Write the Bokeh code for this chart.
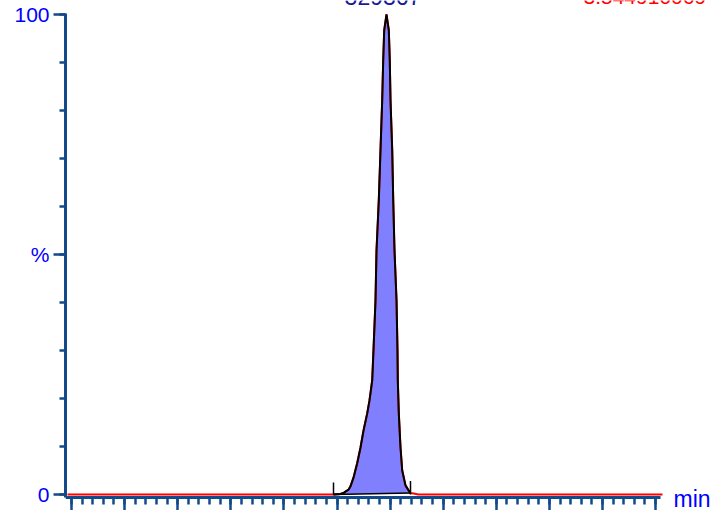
import numpy as np
from bokeh.plotting import figure
from bokeh.models import FixedTicker, Label, Range1d
from bokeh.embed import file_html
from bokeh.resources import INLINE

# ---- data (time in min, intensity in %) ----
trace_time = [0.925, 5.934, 6.066, 6.122, 6.160, 6.217, 6.254, 6.311, 6.380, 6.443,
              6.499, 6.569, 6.612, 6.663, 6.687, 6.725, 6.744, 6.787, 6.819, 6.851,
              6.870, 6.889, 6.932, 6.976, 6.994, 7.008, 7.040, 7.059, 7.083, 7.121,
              7.139, 7.145, 7.164, 7.196, 7.228, 7.290, 7.352, 7.384, 7.441, 7.535, 12.13]
trace_pct = [0.0, 0.0, 0.1, 0.3, 0.6, 1.0, 1.7, 3.5, 6.5, 9.8,
             13.3, 16.9, 19.6, 23.8, 30.0, 40.4, 50.8, 61.3, 71.7, 82.1,
             90.4, 96.7, 100.0, 96.7, 90.4, 82.1, 71.7, 61.3, 50.8, 40.4,
             30.0, 23.8, 16.9, 9.8, 5.0, 1.9, 0.8, 0.3, 0.2, 0.0, 0.0]

peak_start = 5.934
peak_end = 7.384
peak_base_end = 0.3
peak_area = "329367"
header_text = "3.544910069"
x_unit = "min"

x_major = list(range(1, 13))
x_minor = [round(1 + 0.2 * i, 1) for i in range(0, 56)]
y_major = [0, 50, 100]
y_minor = list(range(0, 101, 10))
y_labels = {0: "0", 50: "%", 100: "100"}

AXIS = "#134a8a"
FONT = "Liberation Sans"

X0, X1 = 0.887, 13.128
Y0, Y1 = -3.333, 102.917
XAX_Y = -0.625

p = figure(width=715, height=510, output_backend="svg", toolbar_location=None,
           x_range=Range1d(X0, X1), y_range=Range1d(Y0, Y1),
           x_axis_location="above",
           min_border_left=65, min_border_right=0, min_border_top=0,
           min_border_bottom=0)
p.outline_line_color = None
p.xgrid.visible = False
p.ygrid.visible = False
p.background_fill_color = "white"

t = np.array(trace_time)
v = np.array(trace_pct)
mask = (t >= peak_start) & (t <= peak_end)
pt = t[mask]
pv = v[mask]
base = np.interp(pt, [peak_start, peak_end], [0.0, peak_base_end])

p.varea(x=pt, y1=base, y2=pv, fill_color="#8080ff")
p.line(t, v, line_color="#ff0000", line_width=2)
p.line(pt, pv, line_color="black", line_width=2)
p.line([peak_start, peak_end], [0.0, peak_base_end], line_color="black", line_width=1.5)
p.segment(x0=[peak_start, peak_end], y0=[0, 0], x1=[peak_start, peak_end], y1=[2.5, 2.8],
          line_color="black", line_width=1.5)

# x axis: drawn at a fixed data location, ticks pointing down
xa = p.xaxis[0]
xa.fixed_location = XAX_Y
xa.bounds = (X0, 12.09)
xa.ticker = FixedTicker(ticks=x_major, minor_ticks=x_minor)
xa.major_label_overrides = {k: "" for k in x_major}
xa.major_label_text_font_size = "0px"
xa.major_label_standoff = 0
xa.axis_line_color = AXIS
xa.axis_line_width = 3
xa.major_tick_line_color = AXIS
xa.minor_tick_line_color = AXIS
xa.major_tick_line_width = 2.5
xa.minor_tick_line_width = 2.5
xa.major_tick_in = 13
xa.major_tick_out = 0
xa.minor_tick_in = 7
xa.minor_tick_out = 0

ya = p.yaxis[0]
ya.bounds = (XAX_Y, 100.2)
ya.ticker = FixedTicker(ticks=y_major, minor_ticks=y_minor)
ya.major_label_overrides = y_labels
ya.major_label_text_font = FONT
ya.major_label_text_font_size = "21px"
ya.major_label_text_color = "#0000ff"
ya.major_label_standoff = 4
ya.axis_line_color = AXIS
ya.axis_line_width = 3
ya.major_tick_line_color = AXIS
ya.minor_tick_line_color = AXIS
ya.major_tick_line_width = 2.5
ya.minor_tick_line_width = 2.5
ya.major_tick_in = 0
ya.major_tick_out = 12
ya.minor_tick_in = 0
ya.minor_tick_out = 6

p.add_layout(Label(x=6.866, y=103.75, text=peak_area, text_align="center",
                   text_baseline="alphabetic", text_font=FONT,
                   text_font_size="23px", text_color="#1a1a99"))
p.add_layout(Label(x=10.642, y=103.57, text=header_text, text_align="left",
                   text_baseline="alphabetic", text_font=FONT,
                   text_font_size="21px", text_color="#ff0000"))
p.add_layout(Label(x=12.337, y=-0.84, text=x_unit, text_align="left",
                   text_baseline="alphabetic", text_font=FONT,
                   text_font_size="23px", text_color="#0000ff"))

open("out.html", "w").write(file_html(p, INLINE))
